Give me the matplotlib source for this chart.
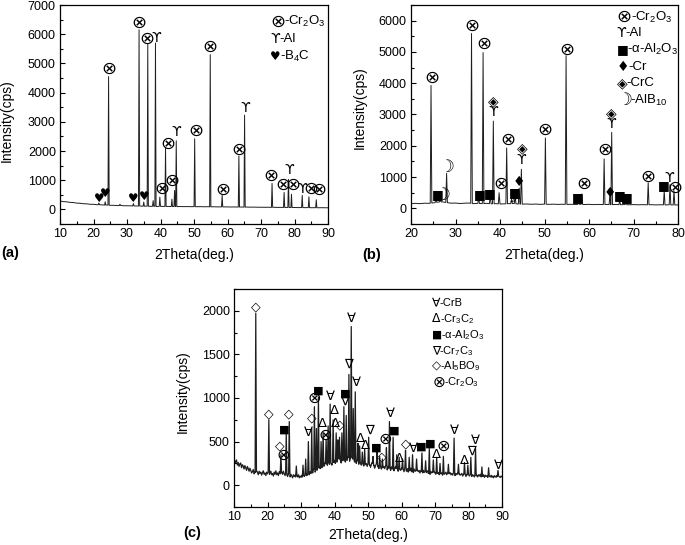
import numpy as np
import matplotlib
matplotlib.use("Agg")
import matplotlib.pyplot as plt
from matplotlib.ticker import MultipleLocator, FixedLocator

plt.rcParams['font.family'] = ['Liberation Sans', 'DejaVu Sans']
plt.rcParams['mathtext.fontset'] = 'custom'
plt.rcParams['mathtext.rm'] = 'Liberation Sans'
plt.rcParams['mathtext.it'] = 'Liberation Sans:italic'
plt.rcParams['mathtext.bf'] = 'Liberation Sans:bold'

# ---------------- panel (a) ----------------
a_bg_x = list(range(10, 91))
a_bg_y = [290, 265, 260, 240, 235, 215, 210, 195, 190, 175,
          175, 160, 160, 150, 150, 140, 140, 130, 135, 125,
          125, 120, 120, 115, 115, 110, 112, 105, 108, 100,
          105, 100, 102, 98, 100, 96, 98, 95, 97, 93,
          95, 92, 94, 90, 92, 88, 90, 86, 88, 85,
          86, 82, 84, 80, 82, 78, 80, 76, 78, 74,
          75, 72, 74, 70, 72, 68, 70, 66, 68, 64,
          66, 62, 64, 60, 62, 58, 60, 56, 58, 55, 55]
a_peak_x = [21.6, 23.5, 24.5, 27.9, 31.9, 33.6, 35.0, 36.2, 37.8, 38.5, 39.8,
            41.5, 43.4, 44.2, 44.7, 50.2, 54.85, 58.4, 63.4, 65.1, 73.3,
            76.9, 78.2, 79.1, 82.3, 84.3, 86.5]
a_peak_y = [220, 260, 4550, 180, 200, 6150, 250, 5650, 300, 5700, 420,
            2100, 350, 650, 2350, 2420, 5300, 480, 1830, 3230, 890,
            580, 1030, 520, 480, 430, 330]
a_mark_x = [24.7, 33.7, 36.1, 38.8, 40.5, 42.1, 43.5, 44.8, 50.5, 54.9, 58.5,
            63.4, 65.2, 73.1, 76.6, 78.4, 79.6, 82.3, 84.8, 87.2,
            21.6, 23.5, 31.9, 35.0]
a_mark_y = [4815, 6375, 5840, 5880, 705, 2250, 970, 2650, 2675, 5580, 680,
            2025, 3470, 1140, 830, 1340, 850, 705, 720, 680,
            365, 535, 365, 430]
a_mark_s = ['⊗', '⊗', '⊗', 'ϒ', '⊗', '⊗', '⊗', 'ϒ', '⊗', '⊗', '⊗',
            '⊗', 'ϒ', '⊗', '⊗', 'ϒ', '⊗', 'ϒ', '⊗', '⊗',
            '♥', '♥', '♥', '♥']
a_leg_sym = ['⊗', 'ϒ', '♥']
a_leg_lab = ['-Cr$\\mathregular{_2}$O$\\mathregular{_3}$', '-Al',
             '-B$\\mathregular{_4}$C']

# ---------------- panel (b) ----------------
b_bg_x = list(range(20, 81))
b_bg_y = [150, 160, 150, 165, 160, 175, 200, 210, 185, 165,
          170, 155, 165, 170, 150, 160, 150, 160, 145, 150,
          140, 145, 150, 155, 140, 135, 140, 130, 138, 128,
          135, 128, 134, 126, 132, 125, 130, 124, 132, 122,
          128, 120, 126, 120, 125, 118, 124, 116, 122, 115,
          120, 114, 118, 112, 118, 110, 116, 110, 114, 108, 110]
b_peak_x = [24.5, 25.6, 26.6, 28.0, 33.6, 35.2, 36.2, 37.8, 38.5, 39.8, 41.5,
            42.6, 43.4, 44.3, 44.8, 50.2, 54.85, 57.6, 58.4, 63.4, 64.7,
            65.1, 66.9, 68.3, 73.3, 76.9, 78.2, 79.1]
b_peak_y = [3930, 300, 280, 1120, 5590, 380, 4980, 420, 2790, 500, 1930,
            300, 420, 650, 1250, 2250, 4880, 300, 460, 1580, 450,
            2430, 250, 240, 820, 560, 760, 560]
b_mark_x = [24.8, 25.9, 27.0, 28.0, 33.8, 35.4, 36.5, 37.7, 38.5, 38.5, 40.2,
            41.8, 42.4, 43.4, 44.3, 45.0, 44.8, 50.1, 55.1, 57.5, 58.8,
            63.5, 64.6, 65.1, 65.1, 66.9, 68.5, 73.2, 76.8, 78.1, 79.2]
b_mark_y = [4180, 428, 428, 1317, 5840, 430, 5270, 461, 3430, 3070, 770,
            2195, 375, 515, 855, 1907, 1553, 2495, 5058, 350, 770,
            1860, 500, 3030, 2700, 400, 345, 1000, 740, 960, 650]
b_mark_s = ['⊗', '■', '☽', '☽', '⊗', '■', '⊗', '■', '◈', 'ϒ', '⊗',
            '⊗', '☽', '■', '♦', '◈', 'ϒ', '⊗', '⊗', '■', '⊗',
            '⊗', '♦', '◈', 'ϒ', '■', '■', '⊗', '■', 'ϒ', '⊗']
b_leg_sym = ['⊗', 'ϒ', '■', '♦', '◈', '☽']
b_leg_lab = ['-Cr$\\mathregular{_2}$O$\\mathregular{_3}$', '-Al',
             '-α-Al$\\mathregular{_2}$O$\\mathregular{_3}$', '-Cr', '-CrC',
             '-AlB$\\mathregular{_{10}}$']

# ---------------- panel (c) ----------------
c_bg_x = [10 + 0.25 * i for i in range(321)]
c_bg_y = [305, 250, 275, 290, 230, 260, 215, 245, 255, 200, 235, 220, 185, 225, 200, 170, 215, 190, 160, 195,
          170, 140, 155, 180, 130, 150, 125, 165, 145, 120, 160, 135, 150, 115, 145, 165, 125, 140, 110, 150,
          130, 155, 115, 140, 160, 120, 135, 105, 150, 125, 165, 120, 140, 110, 155, 135, 115, 150, 125, 160,
          130, 110, 145, 120, 100, 135, 115, 95, 125, 105, 85, 120, 100, 115, 80, 110, 95, 120, 85, 105,
          90, 115, 80, 110, 100, 125, 95, 130, 115, 145, 120, 155, 135, 170, 140, 185, 160, 150, 190, 165,
          200, 175, 215, 190, 230, 200, 245, 215, 225, 260, 230, 250, 215, 265, 240, 275, 245, 230, 280, 255,
          285, 250, 300, 265, 290, 310, 270, 295, 255, 305, 280, 320, 290, 265, 315, 285, 330, 295, 275, 320,
          295, 330, 280, 305, 265, 295, 250, 285, 270, 240, 280, 255, 230, 265, 245, 220, 260, 235, 250, 215,
          250, 220, 240, 205, 235, 260, 210, 230, 195, 225, 245, 200, 220, 190, 235, 210, 185, 225, 200, 215,
          190, 225, 200, 175, 215, 190, 205, 170, 210, 185, 200, 165, 195, 215, 175, 190, 160, 200, 180, 170,
          195, 165, 185, 155, 200, 170, 160, 190, 150, 180, 165, 195, 155, 175, 145, 185, 160, 170, 140, 175,
          155, 170, 140, 165, 150, 135, 170, 145, 160, 130, 155, 165, 135, 150, 125, 160, 140, 150, 130, 155,
          140, 125, 155, 135, 145, 120, 150, 130, 140, 115, 145, 125, 135, 150, 120, 140, 115, 135, 145, 120,
          135, 115, 140, 125, 110, 135, 120, 140, 105, 130, 115, 125, 135, 105, 125, 115, 130, 100, 125, 110,
          125, 105, 120, 130, 100, 120, 110, 95, 125, 105, 115, 95, 120, 105, 125, 95, 110, 100, 120, 90,
          115, 100, 110, 90, 120, 100, 95, 115, 90, 105, 85, 110, 100, 90, 110, 85, 105, 95, 90, 105,
          95]
c_peak_x = [16.5, 20.4, 24.0, 25.6, 26.5, 28.6, 30.6, 31.4, 32.2, 33.2, 34.0,
            34.6, 35.2, 36.0, 36.6, 37.5, 38.1, 38.7, 39.6, 40.5, 41.0,
            41.5, 42.2, 42.8, 43.5, 44.3, 45.0, 45.6, 46.2, 47.0, 47.5,
            48.3, 49.0, 50.2, 51.5, 52.7, 53.5, 54.3, 55.5, 56.4, 57.5,
            58.6, 59.3, 60.3, 61.2, 62.3, 63.3, 64.5, 66.1, 67.2, 68.3,
            69.5, 70.5, 71.5, 72.5, 74.0, 75.7, 77.0, 78.8, 79.8, 80.7,
            82.1, 84.0, 86.0, 88.8]
c_peak_y = [1970, 750, 350, 600, 730, 220, 230, 300, 500, 650, 900,
            650, 1010, 500, 600, 520, 680, 930, 750, 600, 520,
            550, 600, 900, 800, 1270, 1820, 880, 1070, 480, 450,
            380, 420, 550, 330, 380, 330, 300, 430, 730, 550,
            350, 320, 300, 400, 320, 350, 300, 370, 280, 420,
            290, 320, 250, 330, 240, 540, 240, 260, 230, 320,
            420, 210, 200, 170]
c_mark_x = [16.5, 20.4, 23.7, 24.7, 24.9, 26.5, 32.2, 33.1, 33.9, 35.2, 36.4,
            37.4, 38.9, 39.9, 40.4, 41.6, 42.9, 43.2, 44.1, 45.1, 46.6,
            47.8, 49.1, 50.4, 52.6, 54.1, 55.2, 56.6, 57.9, 59.4, 61.3,
            63.5, 66.0, 68.5, 70.5, 72.5, 75.8, 78.8, 80.8, 82.0, 88.8]
c_mark_y = [2050, 820, 450, 345, 640, 820, 610, 770, 1000, 1090, 710,
            575, 1015, 860, 710, 690, 960, 1045, 1390, 1915, 1175,
            540, 460, 630, 430, 325, 525, 820, 620, 305, 470,
            420, 440, 480, 355, 440, 630, 280, 385, 510, 230]
c_mark_s = ['◇', '◇', '◇', '⊗', '■', '◇', '∀', '◇', '⊗', '■', 'Δ',
            '⊗', '∀', 'Δ', 'Δ', '◇', '∇', '■', '∇', '∀', '∀',
            'Δ', 'Δ', '∇', '■', '◇', '⊗', '∀', '■', 'Δ', '◇',
            '∀', '■', '■', 'Δ', '⊗', '∀', 'Δ', '∇', '∀', '∀']
c_leg_sym = ['∀', 'Δ', '■', '∇', '◇', '⊗']
c_leg_lab = ['-CrB', '-Cr$\\mathregular{_3}$C$\\mathregular{_2}$',
             '-α-Al$\\mathregular{_2}$O$\\mathregular{_3}$',
             '-Cr$\\mathregular{_7}$C$\\mathregular{_3}$',
             '-Al$\\mathregular{_5}$BO$\\mathregular{_9}$',
             '-Cr$\\mathregular{_2}$O$\\mathregular{_3}$']

SYM_SIZE = {'⊗': 13, 'ϒ': 10, '♥': 8.5, '■': 9, '♦': 10, '◈': 10, '☽': 12,
            '∀': 10.5, 'Δ': 10.5, '∇': 10.5, '◇': 10}


def build_trace(bx, by, px, py, w):
    bx = np.asarray(bx, float)
    by = np.asarray(by, float)
    keep = np.ones(len(bx), bool)
    for p in px:
        keep &= ~((bx > p - w) & (bx < p + w))
    xs = list(bx[keep])
    ys = list(by[keep])
    for p, h in zip(px, py):
        for xx in (p - w, p + w):
            xs.append(xx)
            ys.append(float(np.interp(xx, bx, by)))
        xs.append(p)
        ys.append(h)
    order = np.argsort(xs, kind='stable')
    return np.array(xs)[order], np.array(ys)[order]


def style_axes(ax, xlim, ylim, xmaj, ymaj_max, ymaj, ymin_step):
    ax.set_xlim(*xlim)
    ax.set_ylim(*ylim)
    ax.xaxis.set_major_locator(MultipleLocator(xmaj))
    ax.xaxis.set_minor_locator(MultipleLocator(xmaj / 2))
    ax.yaxis.set_major_locator(FixedLocator(np.arange(0, ymaj_max + 1, ymaj)))
    ax.yaxis.set_minor_locator(MultipleLocator(ymin_step))
    ax.tick_params(which='both', direction='in', top=False, right=False,
                   width=0.8, labelsize=9, pad=3)
    ax.tick_params(which='major', length=3.5)
    ax.tick_params(which='minor', length=2)
    for s in ax.spines.values():
        s.set_linewidth(0.9)
    ax.set_xlabel('2Theta(deg.)', fontsize=10)
    ax.set_ylabel('Intensity(cps)', fontsize=10)


def draw_marks(ax, xs, ys, ss, scale=1.0):
    for x, y, s in zip(xs, ys, ss):
        ax.text(x, y, s, ha='center', va='center', family='DejaVu Sans',
                fontsize=SYM_SIZE[s] * scale, color='black')


def draw_legend(ax, x0, ys, syms, labs, fs, scale=1.0):
    for y, s, l in zip(ys, syms, labs):
        t = ax.text(x0, y, s, transform=ax.transAxes, ha='left', va='center',
                    family='DejaVu Sans', fontsize=SYM_SIZE[s] * scale)
        ax.annotate(l, xy=(1, 0.5), xycoords=t, xytext=(-0.8, 0),
                    textcoords='offset points', ha='left', va='center',
                    fontsize=fs)


fig = plt.figure(figsize=(6.85, 5.45), dpi=100)
W, H = 685.0, 545.0

def add_axes(l, r, t, b):
    return fig.add_axes([l / W, 1 - b / H, (r - l) / W, (b - t) / H])

LC = '#1e1e1e'

# (a)
axa = add_axes(60, 328, 5, 224)
x, y = build_trace(a_bg_x, a_bg_y, a_peak_x, a_peak_y, 0.18)
axa.plot(x, y, color=LC, lw=0.7)
style_axes(axa, (10, 90), (-500, 7000), 10, 7000, 1000, 500)
draw_marks(axa, a_mark_x, a_mark_y, a_mark_s)
draw_legend(axa, 0.785, [0.924, 0.845, 0.763], a_leg_sym, a_leg_lab, 9.5)
axa.xaxis.set_label_coords(0.5, -(255 - 224) / 219.0)
axa.xaxis.label.set_va('center')
axa.yaxis.set_label_coords((7 - 60) / 268.0, 0.47)
axa.yaxis.label.set_va('center')

# (b)
axb = add_axes(411, 678, 5, 224)
x, y = build_trace(b_bg_x, b_bg_y, b_peak_x, b_peak_y, 0.18)
axb.plot(x, y, color=LC, lw=0.7)
style_axes(axb, (20, 80), (-500, 6500), 10, 6000, 1000, 500)
draw_marks(axb, b_mark_x, b_mark_y, b_mark_s)
draw_legend(axb, 0.77, [0.945, 0.870, 0.795, 0.717, 0.642, 0.566],
            b_leg_sym, b_leg_lab, 9.5)
axb.xaxis.set_label_coords(0.5, -(255 - 224) / 219.0)
axb.xaxis.label.set_va('center')
axb.yaxis.set_label_coords((360 - 411) / 267.0, 0.53)
axb.yaxis.label.set_va('center')

# (c)
axc = add_axes(234, 502, 289, 507)
x, y = build_trace(c_bg_x, c_bg_y, c_peak_x, c_peak_y, 0.2)
axc.plot(x, y, color=LC, lw=0.9)
style_axes(axc, (10, 90), (-250, 2250), 10, 2000, 500, 250)
draw_marks(axc, c_mark_x, c_mark_y, c_mark_s, scale=0.9)
draw_legend(axc, 0.74, [(507 - v) / 218.0 for v in (303, 319, 335, 351, 366, 382)],
            c_leg_sym, c_leg_lab, 8, scale=0.85)
axc.xaxis.set_label_coords(0.5, -(535 - 507) / 218.0)
axc.xaxis.label.set_va('center')
axc.yaxis.set_label_coords((183 - 234) / 268.0, 0.53)
axc.yaxis.label.set_va('center')

# panel labels
fig.text(10 / W, 1 - 253 / H, '(a)', fontsize=10.5, fontweight='bold', ha='center', va='center')
fig.text(372 / W, 1 - 255 / H, '(b)', fontsize=10.5, fontweight='bold', ha='center', va='center')
fig.text(192 / W, 1 - 533 / H, '(c)', fontsize=10.5, fontweight='bold', ha='center', va='center')

fig.savefig('out.png', dpi=100)
